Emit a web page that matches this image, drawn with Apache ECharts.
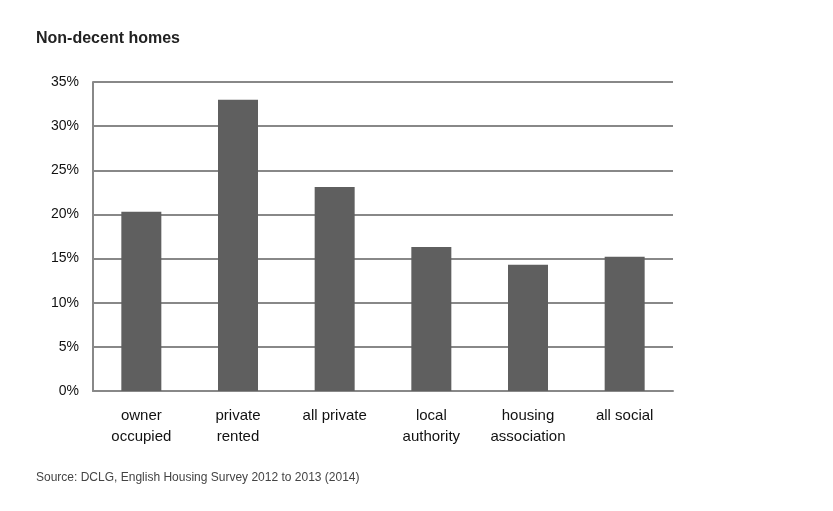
<!DOCTYPE html>
<html>
<head>
<meta charset="utf-8">
<script src="https://cdn.jsdelivr.net/npm/echarts@6/dist/echarts.min.js"></script>
<style>html,body{margin:0;padding:0;background:#fff;}#chart{width:833px;height:511px;}</style>
</head>
<body>
<div id="chart"></div>
<script>
"use strict";

var categories = ['owner\noccupied', 'private\nrented', 'all private', 'local\nauthority', 'housing\nassociation', 'all social'];
var nonDecent = [20.3, 33.0, 23.1, 16.3, 14.3, 15.2];
var yTicks = [0, 5, 10, 15, 20, 25, 30, 35];

var chart = echarts.init(document.getElementById('chart'));
var font = '"Liberation Sans", Arial, sans-serif';

chart.setOption({
    animation: false,
    title: {
        text: 'Non-decent homes',
        left: 31, top: 26,
        textStyle: {fontFamily: font, fontSize: 16, fontWeight: 'bold', color: '#222'}
    },
    graphic: [{
        type: 'text', left: 36, top: 472,
        style: {text: 'Source: DCLG, English Housing Survey 2012 to 2013 (2014)', font: '12px ' + font, fill: '#444'}
    }],
    grid: {left: 93, right: 160, top: 82, bottom: 120},
    xAxis: {
        type: 'category',
        data: categories,
        axisLine: {lineStyle: {color: '#888', width: 2}},
        axisTick: {show: false},
        axisLabel: {interval: 0, fontFamily: font, fontSize: 15, color: '#111', margin: 14, lineHeight: 21}
    },
    yAxis: {
        type: 'value',
        min: yTicks[0], max: yTicks[yTicks.length - 1], interval: 5,
        axisLine: {show: true, lineStyle: {color: '#888', width: 2}},
        axisTick: {show: false},
        axisLabel: {fontFamily: font, fontSize: 14, color: '#111', formatter: '{value}%', margin: 14},
        splitLine: {lineStyle: {color: '#888', width: 2}}
    },
    series: [{
        type: 'bar',
        data: nonDecent,
        barWidth: 40,
        itemStyle: {color: '#5f5f5f'}
    }]
});
</script>
</body>
</html>
